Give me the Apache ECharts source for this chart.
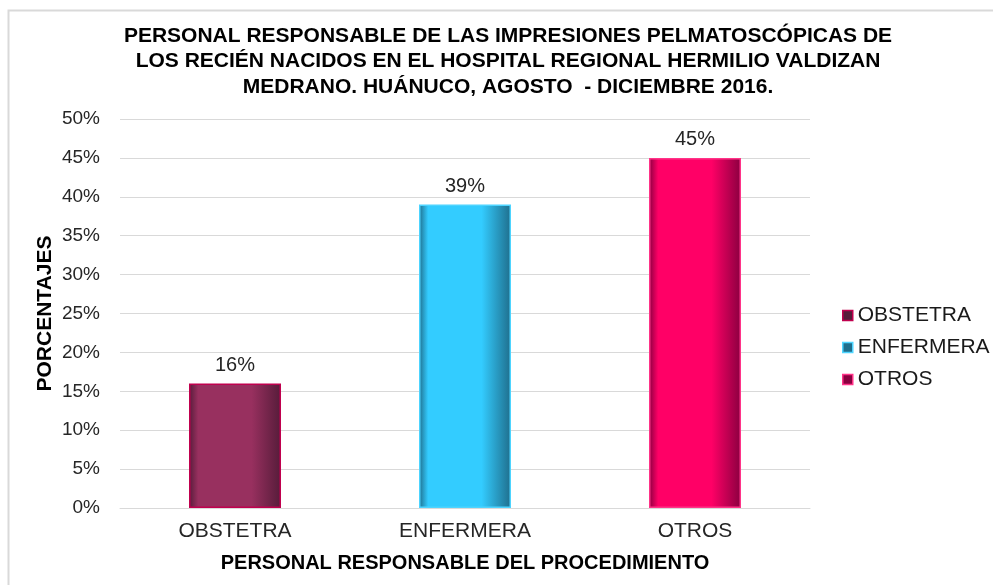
<!DOCTYPE html>
<html>
<head>
<meta charset="utf-8">
<script src="https://cdn.jsdelivr.net/npm/echarts@6/dist/echarts.min.js"></script>
<style>
  html, body { margin: 0; padding: 0; background: #fff; }
  #chart { width: 993px; height: 585px; }
</style>
</head>
<body>
<div id="chart"></div>
<script>
const titleText = "PERSONAL RESPONSABLE DE LAS IMPRESIONES PELMATOSCÓPICAS DE\nLOS RECIÉN NACIDOS EN EL HOSPITAL REGIONAL HERMILIO VALDIZAN\nMEDRANO. HUÁNUCO, AGOSTO  - DICIEMBRE 2016.";
const categories = ["OBSTETRA", "ENFERMERA", "OTROS"];
const values = [16, 39, 45];
const yTicks = [0, 5, 10, 15, 20, 25, 30, 35, 40, 45, 50];

// main, dark edge, border
const palette = [
  ["#98305f", "#561c3a", "#c0004e"],
  ["#33ccff", "#1f6e8c", "#4dd4ff"],
  ["#ff0066", "#8a0040", "#ff3388"]
];

function shade(p) {
  return new echarts.graphic.LinearGradient(0, 0, 1, 0, [
    { offset: 0, color: p[1] },
    { offset: 0.1, color: p[0] },
    { offset: 0.68, color: p[0] },
    { offset: 1, color: p[1] }
  ]);
}

const series = categories.map(function (name, i) {
  return {
    name: name,
    type: "bar",
    stack: "all",
    barWidth: "40%",
    data: categories.map(function (c, j) { return j === i ? values[i] : "-"; }),
    itemStyle: {
      color: shade(palette[i]),
      borderColor: palette[i][2],
      borderWidth: 1.5
    },
    label: {
      show: true,
      position: "top",
      distance: 8,
      formatter: "{c}%",
      fontFamily: "Liberation Sans",
      fontSize: 20,
      color: "#262626"
    }
  };
});

const chart = echarts.init(document.getElementById("chart"));
chart.setOption({
  animation: false,
  backgroundColor: "#fff",
  graphic: [{
    type: "polyline",
    shape: { points: [[8.5, 600], [8.5, 10.5], [1000, 10.5]] },
    style: { stroke: "#d9d9d9", lineWidth: 2, fill: null }
  }],
  title: {
    text: titleText,
    left: 503,
    top: 18,
    textAlign: "center",
    textStyle: {
      fontFamily: "Liberation Sans",
      fontWeight: "bold",
      fontSize: 21,
      lineHeight: 25.5,
      color: "#000"
    }
  },
  legend: {
    orient: "vertical",
    left: 837,
    top: 300,
    icon: "rect",
    itemWidth: 10,
    itemHeight: 10,
    itemGap: 11,
    textStyle: { fontFamily: "Liberation Sans", fontSize: 21, color: "#1a1a1a" },
    data: categories.map(function (c, i) {
      return { name: c, itemStyle: { color: palette[i][1], borderColor: palette[i][2], borderWidth: 1.5 } };
    })
  },
  grid: { left: 120, right: 183, top: 119, bottom: 77 },
  xAxis: {
    type: "category",
    data: categories,
    axisTick: { show: false },
    axisLine: { lineStyle: { color: "#d9d9d9", width: 1 } },
    axisLabel: { fontFamily: "Liberation Sans", fontSize: 21, color: "#262626", margin: 13 },
    name: "PERSONAL RESPONSABLE DEL PROCEDIMIENTO",
    nameLocation: "middle",
    nameGap: 45,
    nameTextStyle: { fontFamily: "Liberation Sans", fontWeight: "bold", fontSize: 20, color: "#000" }
  },
  yAxis: {
    type: "value",
    min: yTicks[0],
    max: yTicks[yTicks.length - 1],
    interval: 5,
    axisLine: { show: false },
    axisTick: { show: false },
    splitLine: { lineStyle: { color: "#d9d9d9", width: 1 } },
    axisLabel: { formatter: "{value}%", fontFamily: "Liberation Sans", fontSize: 19, color: "#262626", margin: 20 },
    name: "PORCENTAJES",
    nameLocation: "middle",
    nameGap: 64,
    nameMoveOverlap: false,
    nameTextStyle: { fontFamily: "Liberation Sans", fontWeight: "bold", fontSize: 21, color: "#000" }
  },
  series: series
});
</script>
</body>
</html>
